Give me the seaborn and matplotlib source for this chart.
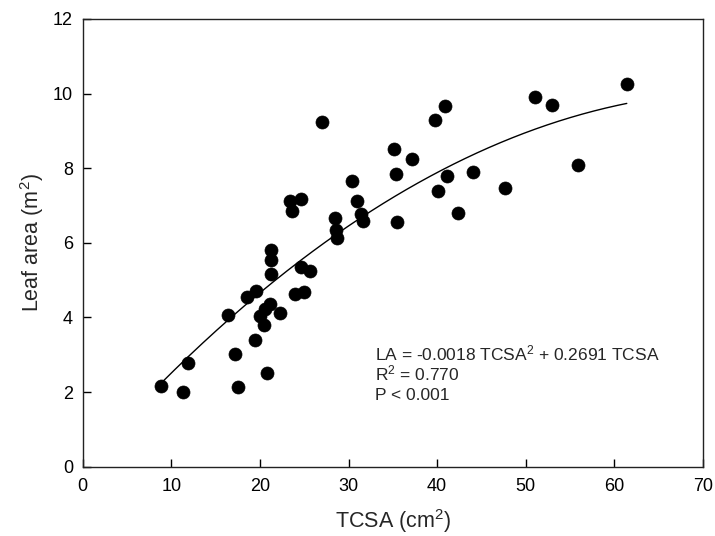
import numpy as np
import pandas as pd
import matplotlib
matplotlib.use("Agg")
import matplotlib.pyplot as plt
import seaborn as sns

tcsa = [8.8, 11.3, 11.9, 16.4, 17.2, 17.5, 18.5, 19.4, 19.6, 20.0, 20.5, 20.6,
        20.8, 21.1, 21.2, 21.2, 21.2, 22.3, 23.4, 23.6, 24.6, 23.9, 25.0, 24.6,
        25.7, 27.0, 28.5, 28.6, 28.7, 30.4, 30.9, 31.4, 31.6, 35.1, 35.3, 35.5,
        37.2, 39.8, 40.9, 40.1, 41.1, 42.3, 44.0, 47.6, 51.0, 53.0, 55.9, 61.4]
leaf_area = [2.17, 2.01, 2.79, 4.06, 3.02, 2.13, 4.55, 3.40, 4.70, 4.04, 3.80, 4.22,
             2.50, 4.37, 5.16, 5.55, 5.81, 4.13, 7.13, 6.86, 7.17, 4.64, 4.67, 5.35,
             5.24, 9.25, 6.66, 6.34, 6.14, 7.66, 7.13, 6.77, 6.59, 8.51, 7.84, 6.57,
             8.26, 9.30, 9.67, 7.38, 7.78, 6.81, 7.91, 7.47, 9.92, 9.70, 8.09, 10.25]
coef_a = -0.0018
coef_b = 0.2691
x_ticks = [0, 10, 20, 30, 40, 50, 60, 70]
y_ticks = [0, 2, 4, 6, 8, 10, 12]
annotation_lines = ["LA = -0.0018 TCSA$^2$ + 0.2691 TCSA", "R$^2$ = 0.770", "P < 0.001"]

sns.set_style("white")
plt.rcParams['font.family'] = ['Liberation Sans', 'DejaVu Sans']
plt.rcParams['mathtext.fontset'] = 'custom'
plt.rcParams['mathtext.rm'] = 'Liberation Sans'
plt.rcParams['mathtext.default'] = 'regular'

df = pd.DataFrame({"TCSA": tcsa, "LA": leaf_area})
fit_x = np.linspace(min(tcsa), max(tcsa), 200)
fit_df = pd.DataFrame({"TCSA": fit_x, "LA": coef_a * fit_x**2 + coef_b * fit_x})

fig = plt.figure(figsize=(7.15, 5.36), dpi=100)
ax = fig.add_axes([0.1157, 0.1293, 0.8675, 0.8353])

sns.lineplot(data=fit_df, x="TCSA", y="LA", ax=ax, color="black", linewidth=1.0)
sns.scatterplot(data=df, x="TCSA", y="LA", ax=ax, color="black", s=88,
                edgecolor="black", linewidth=0.5, zorder=3)

ax.set_xlim(0, 70)
ax.set_ylim(0, 12)
ax.set_xticks(x_ticks)
ax.set_yticks(y_ticks)
ax.tick_params(axis="both", direction="in", length=6, width=1, labelsize=13,
               colors="black", bottom=True, left=True, top=False, right=False)
ax.tick_params(axis="x", pad=8)
ax.tick_params(axis="y", pad=7)
for sp in ax.spines.values():
    sp.set_color("#222222")
    sp.set_linewidth(1.0)

ax.set_xlabel("TCSA (cm$^2$)", fontsize=15.5, labelpad=9)
ax.set_ylabel("Leaf area (m$^2$)", fontsize=15.5, labelpad=5)

for line, yv in zip(annotation_lines, [2.86, 2.32, 1.78]):
    ax.text(33.0, yv, line, fontsize=12.5, ha="left", va="baseline")

fig.savefig("out.png", dpi=100)
